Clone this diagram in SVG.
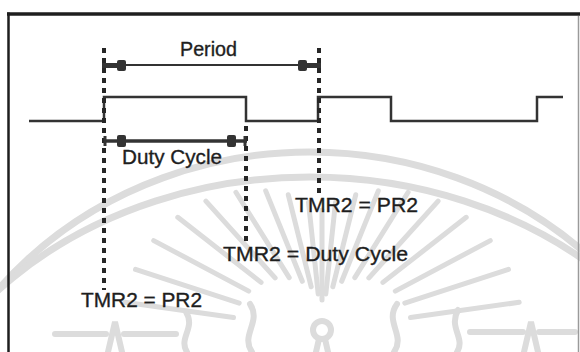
<svg xmlns="http://www.w3.org/2000/svg" width="580" height="352" viewBox="0 0 580 352">
  <style>
    .wm { fill: none; stroke: #dcdcdc; stroke-linecap: round; }
    .sig { fill: none; stroke: #333; stroke-width: 2.5; stroke-linejoin: miter; }
    .dash { fill: none; stroke: #262626; stroke-width: 4; stroke-dasharray: 5 5; }
    .lbl { font-family: "Liberation Sans", Arial, sans-serif; font-size: 20px; fill: #1e1e1e; stroke: #1e1e1e; stroke-width: 0.35; }
    .blk { fill: #333; }
  </style>
  <rect width="580" height="352" fill="#ffffff"/>

  <g id="watermark">
    <ellipse class="wm" cx="310" cy="520" rx="400" ry="368" stroke-width="7"/>
    <ellipse class="wm" cx="310" cy="520" rx="420" ry="343" stroke-width="7"/>
    <g stroke-width="5" class="wm">
      <line x1="410.5" y1="317.6" x2="519.2" y2="302.3"/>
      <line x1="404.8" y1="303.1" x2="508.5" y2="269.4"/>
      <line x1="395.3" y1="291.1" x2="490.3" y2="240.6"/>
      <line x1="382.9" y1="282.4" x2="466.2" y2="217.3"/>
      <line x1="368.9" y1="277.9" x2="438.1" y2="201.1"/>
      <line x1="354.8" y1="277.6" x2="408.1" y2="192.3"/>
      <line x1="341.7" y1="281.3" x2="378.3" y2="190.9"/>
      <line x1="332.8" y1="286.8" x2="355.7" y2="194.8"/>
      <line x1="325.8" y1="293.9" x2="335.5" y2="202.3"/>
      <line x1="322" y1="300" x2="322" y2="210"/>
      <line x1="318.2" y1="293.9" x2="308.5" y2="202.3"/>
      <line x1="311.2" y1="286.8" x2="288.3" y2="194.8"/>
      <line x1="302.3" y1="281.3" x2="265.7" y2="190.9"/>
      <line x1="289.2" y1="277.6" x2="235.9" y2="192.3"/>
      <line x1="275.1" y1="277.9" x2="205.9" y2="201.1"/>
      <line x1="261.1" y1="282.4" x2="177.8" y2="217.3"/>
      <line x1="248.7" y1="291.1" x2="153.7" y2="240.6"/>
      <line x1="239.2" y1="303.1" x2="135.5" y2="269.4"/>
      <line x1="233.5" y1="317.6" x2="124.8" y2="302.3"/>
    </g>
    <g stroke-width="6" class="wm">
      <circle cx="322" cy="330" r="9"/>
      <path d="M316,352 L319,339 M328,352 L325,339"/>
      <path d="M187,352 C178,338 196,328 186,312"/>
      <path d="M252,352 C240,335 262,322 250,304"/>
      <path d="M394,352 C406,335 384,322 397,304"/>
      <path d="M457,352 C466,338 448,328 458,310"/>
      <line x1="55" y1="334" x2="106" y2="334"/>
      <line x1="124" y1="334" x2="176" y2="334"/>
      <path d="M108,352 L115,322 L122,352"/>
      <line x1="470" y1="332" x2="523" y2="332"/>
      <line x1="539" y1="332" x2="575" y2="332"/>
      <path d="M524,352 L531,322 L538,352"/>
    </g>
  </g>

  <g id="frame">
    <line x1="7" y1="14" x2="580" y2="14" stroke="#1e1e1e" stroke-width="3.5"/>
    <line x1="8.5" y1="12.5" x2="8.5" y2="352" stroke="#1e1e1e" stroke-width="2.5"/>
    <line x1="578.5" y1="16" x2="578.5" y2="352" stroke="#9a9a9a" stroke-width="1.5"/>
  </g>

  <g id="signal">
    <path class="sig" d="M29,121 H104 V97 H246 V121 H318 V97 H391 V121 H537 V97 H563"/>
  </g>

  <g id="connectors">
    <line class="dash" x1="104" y1="48" x2="104" y2="290"/>
    <line class="dash" x1="319" y1="48" x2="319" y2="194"/>
    <line class="dash" x1="246" y1="126" x2="246" y2="243"/>
    <g id="period-arrow">
      <line x1="102" y1="65.5" x2="119" y2="65.5" stroke="#333" stroke-width="5"/>
      <rect class="blk" x="117" y="60" width="9" height="11" rx="2"/>
      <line x1="125" y1="65" x2="299" y2="65" stroke="#333" stroke-width="1.8"/>
      <rect class="blk" x="298" y="60" width="9" height="11" rx="2"/>
      <line x1="305" y1="65.5" x2="321" y2="65.5" stroke="#333" stroke-width="5"/>
    </g>
    <g id="duty-arrow">
      <line x1="104" y1="141" x2="247" y2="141" stroke="#333" stroke-width="3.5"/>
      <rect class="blk" x="117" y="135" width="9" height="12" rx="2"/>
      <rect class="blk" x="227" y="135" width="9" height="12" rx="2"/>
      <line x1="105" y1="136" x2="105" y2="146" stroke="#333" stroke-width="3"/>
      <line x1="245" y1="136" x2="245" y2="146" stroke="#333" stroke-width="3"/>
    </g>
  </g>

  <g id="label-period"><text class="lbl" x="180" y="56" textLength="57" lengthAdjust="spacingAndGlyphs">Period</text></g>
  <g id="label-duty"><text class="lbl" x="122" y="164" textLength="100" lengthAdjust="spacingAndGlyphs">Duty Cycle</text></g>
  <g id="label-tmr-pr2-upper"><text class="lbl" x="295" y="212" textLength="123" lengthAdjust="spacingAndGlyphs">TMR2 = PR2</text></g>
  <g id="label-tmr-duty"><text class="lbl" x="223" y="261" textLength="185" lengthAdjust="spacingAndGlyphs">TMR2 = Duty Cycle</text></g>
  <g id="label-tmr-pr2-lower"><text class="lbl" x="81" y="307" textLength="121" lengthAdjust="spacingAndGlyphs">TMR2 = PR2</text></g>
</svg>
